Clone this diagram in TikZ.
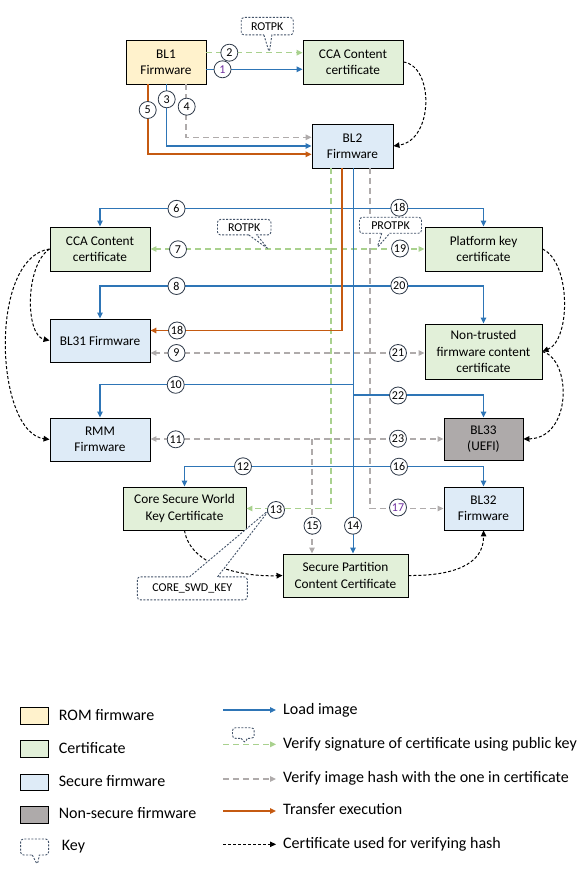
\documentclass[tikz,border=0pt]{standalone}
\usepackage{fontspec}
\setmainfont{Carlito}
\usetikzlibrary{arrows.meta,shapes.callouts}
\definecolor{cblue}{HTML}{2E75B6}
\definecolor{corange}{HTML}{C55A11}
\definecolor{cgreen}{HTML}{A9D18E}
\definecolor{cgray}{HTML}{AFABAB}
\definecolor{fyellow}{HTML}{FFF2CC}
\definecolor{fgreen}{HTML}{E2F0D9}
\definecolor{fblue}{HTML}{DEEBF7}
\definecolor{fgray}{HTML}{AEAAAA}
\definecolor{cnavy}{HTML}{44546A}
\definecolor{cpurple}{HTML}{7030A0}
\begin{document}
\begin{tikzpicture}[x=1pt,y=-1pt,
  box/.style={draw=black,line width=0.9pt,align=center,inner sep=0pt,font=\fontsize{13.3}{16.3}\selectfont},
  wh/.style 2 args={minimum width=#1,minimum height=#2},
  rom/.style={box,fill=fyellow},
  cert/.style={box,fill=fgreen},
  sfw/.style={box,fill=fblue},
  nsfw/.style={box,fill=fgray},
  num/.style={circle,draw=cnavy!70!black,line width=0.8pt,fill=white,inner sep=0pt,minimum size=17pt,font=\fontsize{12}{12}\selectfont},
  tip/.style={-{Triangle[length=6pt,width=5.5pt]}},
  load/.style={draw=cblue,line width=1.4pt,tip},
  loadv/.style={draw=cblue,line width=1pt,tip},
  sig/.style={draw=cgreen,line width=1.3pt,dash pattern=on 6pt off 4pt,tip},
  hash/.style={draw=cgray,line width=1.3pt,dash pattern=on 6pt off 4pt,tip},
  hashline/.style={draw=cgray,line width=1.3pt,dash pattern=on 6pt off 4pt},
  xfer/.style={draw=corange,line width=1.6pt,tip},
  cu/.style={draw=black,line width=1pt,dash pattern=on 3pt off 2pt,tip},
  key/.style={rectangle callout,draw=cnavy,line width=0.9pt,dash pattern=on 2pt off 1.5pt,rounded corners=3pt,fill=white,inner sep=0pt,font=\fontsize{12}{12}\selectfont,callout pointer width=8pt},
  leg/.style={anchor=west,inner sep=0pt,font=\fontsize{16}{16}\selectfont,text height=11pt,text depth=3.5pt},
  lbox/.style={draw=black,line width=0.9pt,minimum width=28pt,minimum height=16.5pt,inner sep=0pt}
]
\fill[white] (0,0) rectangle (586,874);
\useasboundingbox (0,0) rectangle (586,874);

% ---------- boxes ----------
\node[rom,wh={80pt}{44pt}]   (bl1)    at (166,62)    {BL1\\Firmware};
\node[cert,wh={100pt}{44pt}] (ccatop) at (353,62)    {CCA Content\\certificate};
\node[sfw,wh={81pt}{44pt}]   (bl2)    at (352.5,146) {BL2\\Firmware};
\node[cert,wh={100pt}{44pt}] (ccaleft) at (100,249)  {CCA Content\\certificate};
\node[cert,wh={117pt}{44pt}] (pkc)    at (483.5,249) {Platform key\\certificate};
\node[sfw,wh={100pt}{43pt}]  (bl31)   at (100,340.5) {BL31 Firmware};
\node[cert,wh={117pt}{55pt}] (ntfc)   at (483.5,351.5) {Non-trusted\\firmware content\\certificate};
\node[sfw,wh={100pt}{43pt}]  (rmm)    at (100,439.5) {RMM\\Firmware};
\node[nsfw,wh={79pt}{42pt}]  (bl33)   at (483.5,439) {BL33\\(UEFI)};
\node[cert,wh={123pt}{43pt}] (cswk)   at (184.5,508.5) {Core Secure World\\Key Certificate};
\node[sfw,wh={79pt}{43pt}]   (bl32)   at (483.5,508.5) {BL32\\Firmware};
\node[cert,wh={125pt}{43pt}] (spcc)   at (345.5,575.5) {Secure Partition\\Content Certificate};

% ---------- BL1 -> CCA / BL2 ----------
\draw[sig]  ([yshift=9.3pt]bl1.east) -- ([yshift=9.3pt]bl1.east -| ccatop.west);
\draw[load] ([yshift=-7.3pt]bl1.east) -- ([yshift=-7.3pt]bl1.east -| ccatop.west);
\draw[xfer] ([xshift=-18.3pt]bl1.south) |- ([yshift=-8.3pt]bl2.west);
\draw[load] ([xshift=0.7pt]bl1.south) |- (bl2.west);
\draw[hash] ([xshift=20pt]bl1.south) |- ([yshift=8.7pt]bl2.west);
\draw[cu] (ccatop.east) .. controls (434,66) and (434,140) .. (bl2.east);

% ---------- lines leaving BL2 ----------
\coordinate (g0) at ([xshift=-21.5pt]bl2.south);
\coordinate (o0) at ([xshift=-10.5pt]bl2.south);
\coordinate (b0) at ([xshift=0.5pt]bl2.south);
\coordinate (h0) at ([xshift=17.5pt]bl2.south);

\coordinate (j6)  at (353,208.5);
\coordinate (j7)  at (331,249);
\coordinate (j8)  at (353,286);
\coordinate (j9)  at (370,353);
\coordinate (j10) at (353,384.5);
\coordinate (j22) at (353,395);
\coordinate (j11) at (370,439);
\coordinate (j15) at (312,439);
\coordinate (j12) at (353,466.5);

% hash (grey)
\draw[hash] (h0) |- (bl32.west);
\draw[hash] (j9) -- (j9 -| bl31.east);
\draw[hash] (j9) -- (j9 -| ntfc.west);
\draw[hash] (j11) -- (j11 -| rmm.east);
\draw[hash] (j11) -- (j11 -| bl33.west);
\draw[hash] (j15) -- (j15 |- spcc.north);

% signature (green)
\draw[sig] (g0) |- (cswk.east);
\draw[sig] (j7) -- (j7 -| ccaleft.east);
\draw[sig] (j7) -- (j7 -| pkc.west);

% load (blue)
\draw[loadv] (b0) -- (b0 |- spcc.north);
\draw[load] (j6) -| (ccaleft.north);
\draw[load] (j6) -| (pkc.north);
\draw[load] (j8) -| (bl31.north);
\draw[load] (j8) -| (ntfc.north);
\draw[load] (j10) -| (rmm.north);
\draw[load] (j22) -| (bl33.north);
\draw[load] (j12) -| (cswk.north);
\draw[load] (j12) -| (bl32.north);

% transfer (orange)
\draw[xfer] (o0) |- ([yshift=10pt]bl31.east);

% certificate used for verifying hash
\draw[cu] (ccaleft.west) .. controls (25,265) and (25,335) .. (bl31.west);
\draw[cu] (ccaleft.west) .. controls (-12,258) and (-5,432) .. (rmm.west);
\draw[cu] (pkc.east) .. controls (571,262) and (571,340) .. (ntfc.east);
\draw[cu] (ntfc.east) .. controls (572,360) and (572,438) .. (bl33.east);
\draw[cu] (cswk.south) .. controls (190,565) and (240,577) .. (spcc.west);
\draw[cu] (spcc.east) .. controls (452,576) and (484,565) .. (bl32.south);

% ---------- key callouts ----------
\node[key,minimum width=52pt,minimum height=17.5pt,callout absolute pointer={(269.3,52.7)}] (k1) at (267.2,26.2) {ROTPK};
\node[key,minimum width=53.5pt,minimum height=15.5pt,callout absolute pointer={(268.3,249)}] (k2) at (244.2,227.2) {ROTPK};
\node[key,minimum width=62pt,minimum height=16pt,callout absolute pointer={(377,248)}] (k3) at (390.5,225.3) {PROTPK};
\node[key,minimum width=110pt,minimum height=23pt,callout pointer width=28pt,callout absolute pointer={(270,509)}] (k4) at (192.3,588.3) {CORE\_SWD\_KEY};

% ---------- numbers ----------
\node[num,text=cpurple] (n1) at (222.5,69.3) {1};
\node[num] (n2)  at (229.3,52.7) {2};
\node[num] (n3)  at (166.7,99.3) {3};
\node[num] (n4)  at (186.7,106.7) {4};
\node[num] (n5)  at (147.7,110) {5};
\node[num] (n6)  at (176.5,208.8) {6};
\node[num] (n18a) at (399.3,207.7) {18};
\node[num] (n7)  at (178,249.3) {7};
\node[num] (n19) at (400,248.5) {19};
\node[num] (n8)  at (176.5,286) {8};
\node[num] (n20) at (399.3,285.5) {20};
\node[num] (n18b) at (177,330.5) {18};
\node[num] (n9)  at (176.5,353) {9};
\node[num] (n21) at (398,353) {21};
\node[num] (n10) at (175.7,384.8) {10};
\node[num] (n22) at (398,395.5) {22};
\node[num] (n11) at (175.7,439.3) {11};
\node[num] (n23) at (398,438.7) {23};
\node[num] (n12) at (243,466.3) {12};
\node[num] (n16) at (399,466.7) {16};
\node[num] (n13) at (276,510) {13};
\node[num] (n15) at (312.5,525.7) {15};
\node[num] (n14) at (353,525.7) {14};
\node[num,text=cpurple] (n17) at (398,507.5) {17};

% ---------- legend ----------
\node[lbox,fill=fyellow] (lrom)  at (34.6,716) {};
\node[lbox,fill=fgreen]  (lcert) at (34.6,748.8) {};
\node[lbox,fill=fblue]   (lsec)  at (34.6,782.5) {};
\node[lbox,fill=fgray]   (lns)   at (34.6,814.7) {};
\node[key,minimum width=28pt,minimum height=16pt,callout pointer width=7pt,callout absolute pointer={(37.4,865)}] (lkey) at (34.6,847) {};
\node[leg] (trom)  at (58.7,716.5) {ROM firmware};
\node[leg] (tcert) at (58.7,749.3) {Certificate};
\node[leg] (tsec)  at (58.7,783) {Secure firmware};
\node[leg] (tns)   at (58.7,815) {Non-secure firmware};
\node[leg] (tkey)  at (61.7,846.7) {Key};

\node[leg] (tl1) at (283,710.5) {Load image};
\node[leg] (tl2) at (283,744.5) {Verify signature of certificate using public key};
\node[leg] (tl3) at (283,779) {Verify image hash with the one in certificate};
\node[leg] (tl4) at (283,811) {Transfer execution};
\node[leg] (tl5) at (283,844.3) {Certificate used for verifying hash};
\coordinate (la1) at (223,710);
\coordinate (la2) at (223,744.3);
\coordinate (la3) at (223,779);
\coordinate (la4) at (223,811);
\coordinate (la5) at (223,844.3);
\draw[load] (la1) -- (la1 -| 276,0);
\draw[sig]  (la2) -- (la2 -| 276,0);
\draw[hash] (la3) -- (la3 -| 276,0);
\draw[xfer] (la4) -- (la4 -| 276,0);
\draw[cu]   (la5) -- (la5 -| 276,0);
\node[key,minimum width=21.7pt,minimum height=10.6pt,callout pointer width=6pt,callout absolute pointer={(245,743.3)}] (lk2) at (243.3,733) {};
\end{tikzpicture}
\end{document}
